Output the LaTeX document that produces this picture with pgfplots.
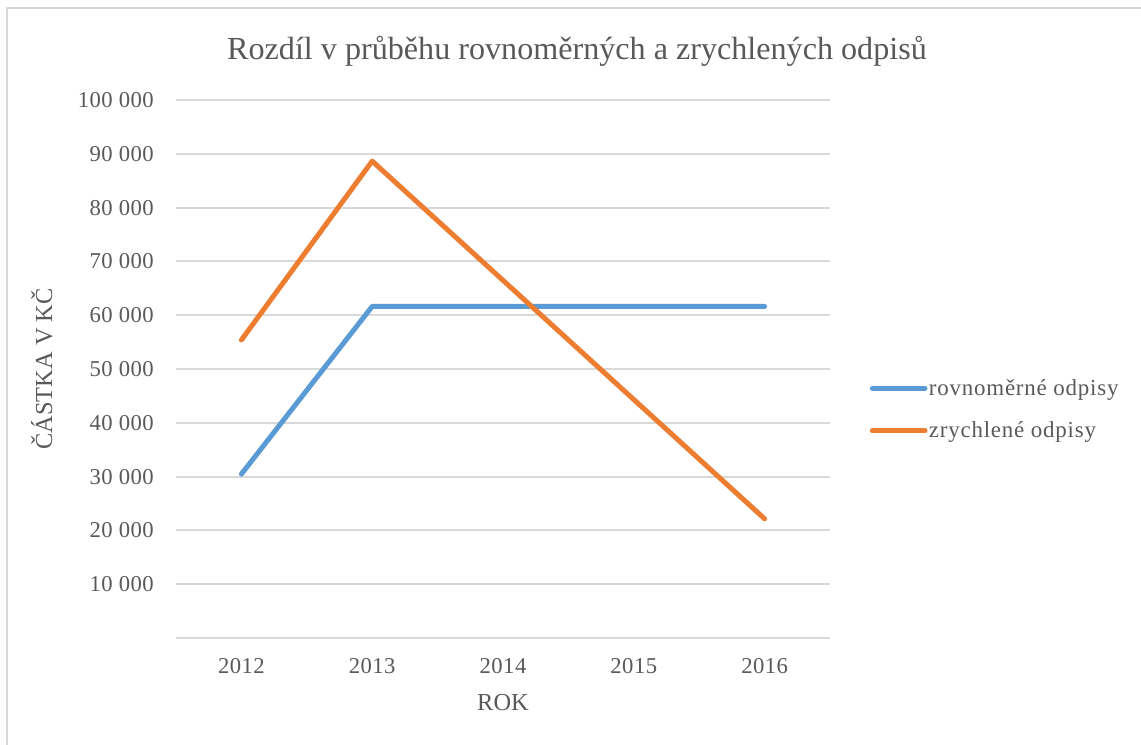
\documentclass[border=0pt]{standalone}
\usepackage{pgfplots}
\pgfplotsset{compat=1.18}
\usepackage{fontspec}
\setmainfont{Liberation Serif}
\definecolor{cblue}{HTML}{5B9BD5}
\definecolor{corange}{HTML}{ED7D31}
\definecolor{cgrid}{HTML}{D9D9D9}
\definecolor{ctext}{HTML}{595959}
\begin{document}
\begin{tikzpicture}
\path[use as bounding box] (0,0) rectangle (855.75pt,558pt);
\draw[cgrid, line width=1.5pt] (5.25pt,-2pt) -- (5.25pt,552pt) -- (860pt,552pt);
\node[anchor=base, text=ctext, font=\fontsize{24.1}{29}\selectfont] at (432.75pt,513.5pt) {Rozdíl v průběhu rovnoměrných a zrychlených odpisů};
\begin{axis}[
  at={(132pt,79.5pt)}, anchor=south west,
  width=490.5pt, height=403.5pt, scale only axis,
  xmin=2011.5, xmax=2016.5, ymin=0, ymax=100000,
  xtick={2012,2013,2014,2015,2016},
  xticklabels={2012,2013,2014,2015,2016},
  ytick={0,10000,20000,30000,40000,50000,60000,70000,80000,90000,100000},
  yticklabels={,10~000,20~000,30~000,40~000,50~000,60~000,70~000,80~000,90~000,100~000},
  scaled y ticks=false,
  axis line style={draw=none},
  major tick length=0pt,
  ymajorgrids,
  grid style={cgrid, line width=1.4pt},
  tick label style={text=ctext, font=\fontsize{17}{20}\selectfont\addfontfeatures{LetterSpace=2}},
  yticklabel style={anchor=east, inner sep=0pt, xshift=-16.5pt},
  xticklabel style={anchor=base, inner sep=0pt, yshift=-26.6pt},
  xlabel={ROK},
  ylabel={ČÁSTKA V KČ},
  label style={text=ctext, font=\fontsize{18.3}{21}\selectfont},
  xlabel style={at={(axis description cs:0.5,-0.1348)}, anchor=base, inner sep=0pt},
  ylabel style={at={(axis description cs:-0.205,0.5)}, anchor=center, inner sep=0pt},
  legend style={at={(axis description cs:1.0605,0.4247)}, anchor=west, draw=none, fill=none,
    inner sep=0pt, font=\fontsize{17.2}{20}\selectfont\addfontfeatures{LetterSpace=3.5}, text=ctext,
    nodes={inner sep=1pt}, row sep=16.5pt},
  legend cell align=left,
  legend image code/.code={\draw[#1, line cap=round] (1.5pt,0pt) -- (41pt,0pt);},
  every axis plot/.append style={line width=3.75pt, line cap=round, line join=round},
]
\addplot[cblue] coordinates {(2012,30470) (2013,61633) (2014,61633) (2015,61633) (2016,61631)};
\addlegendentry{rovnoměrné odpisy}
\addplot[corange] coordinates {(2012,55400) (2013,88640) (2014,66480) (2015,44320) (2016,22160)};
\addlegendentry{zrychlené odpisy}
\end{axis}
\end{tikzpicture}
\end{document}
